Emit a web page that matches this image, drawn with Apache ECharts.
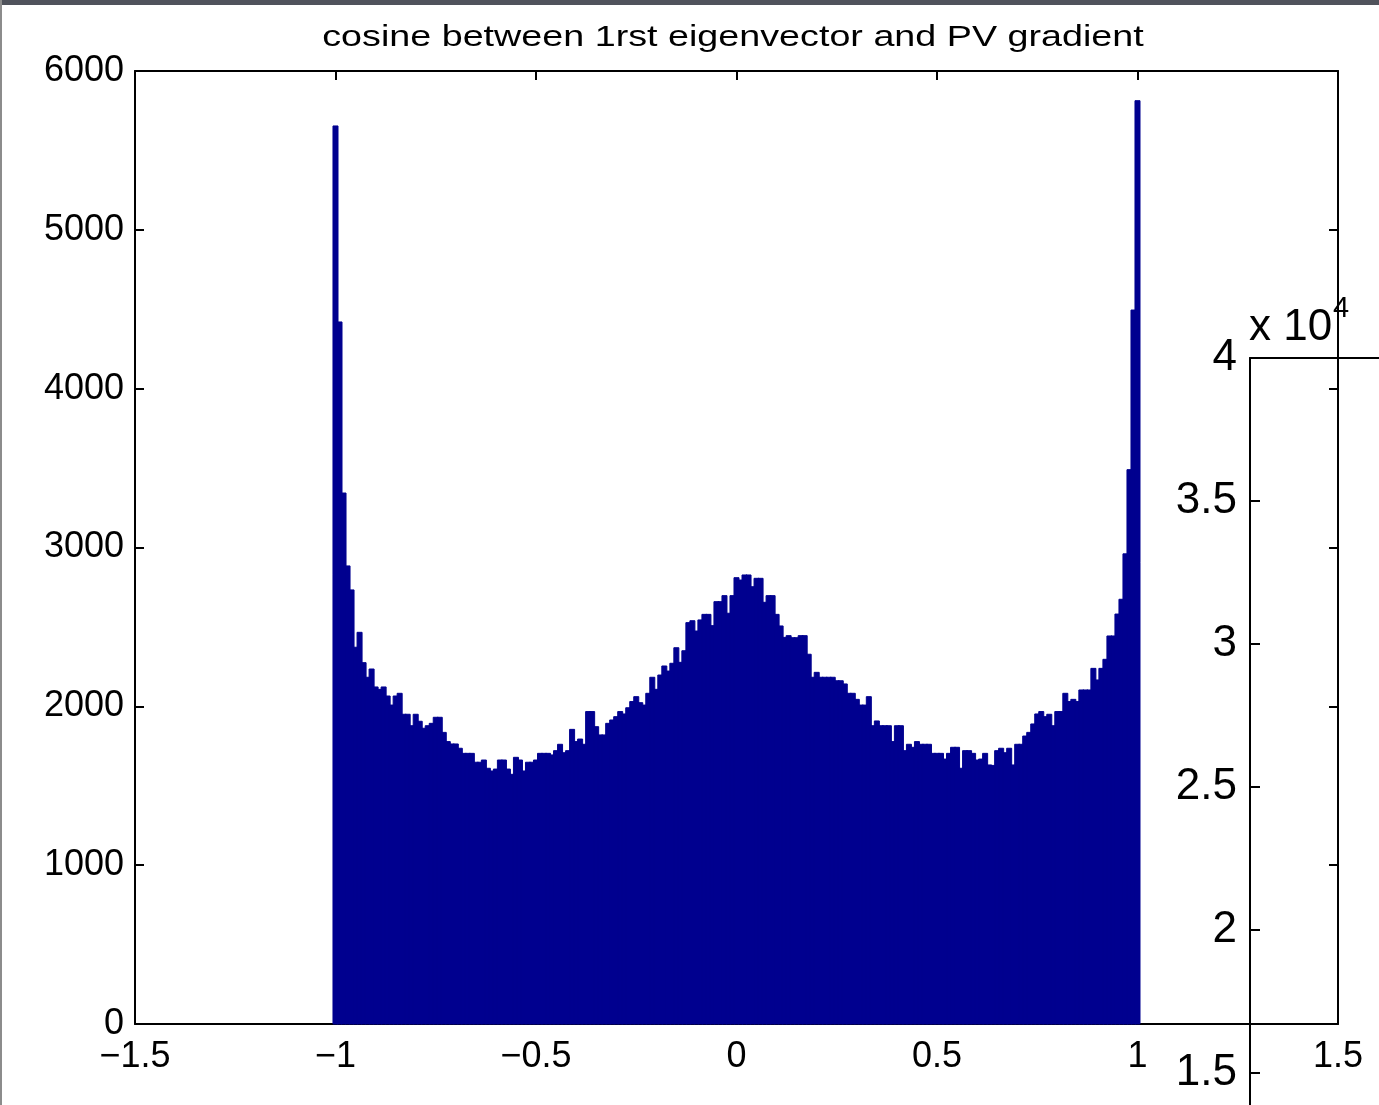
<!DOCTYPE html>
<html>
<head>
<meta charset="utf-8">
<script src="https://cdn.jsdelivr.net/npm/echarts@6/dist/echarts.min.js"></script>
<style>
html,body{margin:0;padding:0;background:#fff;}
#chart{width:1379px;height:1105px;}
</style>
</head>
<body>
<div id="chart"></div>
<script>
// ---- data ----
var titleText = 'cosine between 1rst eigenvector and PV gradient';
var binStart = -1;      // centre of first bin
var binStep = 0.01;     // bin width
var counts = [
5654,4420,3343,2884,2733,2372,2466,2275,2183,2235,
2122,2107,2122,2065,2008,2065,2082,1950,1950,1878,
1950,1906,1862,1878,1893,1931,1931,1836,1778,1763,
1763,1736,1704,1704,1704,1648,1648,1662,1610,1593,
1605,1662,1662,1605,1572,1679,1662,1593,1648,1648,
1662,1704,1704,1704,1694,1721,1761,1708,1721,1855,
1778,1794,1761,1967,1967,1872,1820,1820,1893,1914,
1935,1967,1952,1991,2030,2061,2023,2008,2082,2183,
2107,2197,2254,2222,2271,2369,2277,2350,2527,2539,
2474,2544,2579,2579,2508,2659,2659,2697,2586,2697,
2810,2795,2827,2827,2753,2806,2806,2655,2697,2697,
2579,2506,2434,2445,2432,2432,2445,2445,2328,2183,
2214,2183,2183,2183,2183,2161,2161,2141,2082,2082,
2044,2008,2008,2061,1878,1908,1878,1878,1878,1778,
1878,1878,1721,1761,1742,1778,1761,1761,1761,1704,
1704,1704,1668,1704,1742,1742,1610,1721,1721,1704,
1662,1668,1704,1631,1628,1721,1736,1708,1736,1631,
1761,1761,1813,1836,1889,1952,1967,1935,1950,1878,
1967,1967,2082,2030,2044,2030,2103,2103,2103,2239,
2166,2239,2296,2443,2443,2581,2674,2960,3490,4495,
5813
];
var xTicks = [-1.5, -1, -0.5, 0, 0.5, 1, 1.5];
var yTicks = [0, 1000, 2000, 3000, 4000, 5000, 6000];
// second (partially visible) axes, values x 10^4
var y2Ticks = [1.5, 2, 2.5, 3, 3.5, 4];
var y2Min = 1.388;  // lower end of that axis, just below the picture edge

var histData = counts.map(function (c, i) {
  return [binStart + i * binStep, c];
});

var FONT = '"Liberation Sans", Arial, Helvetica, sans-serif';
var lineStyle = { color: '#000', width: 2 };

var chart = echarts.init(document.getElementById('chart'), null, { renderer: 'canvas' });

function minusFmt(v) {
  return String(v).replace('-', '\u2212');
}

var option = {
  backgroundColor: '#ffffff',
  animation: false,
  grid: [
    { left: 135, right: 41, top: 71, bottom: 81, containLabel: false },
    { left: 1250, top: 358, right: 0, bottom: 0, containLabel: false }
  ],
  xAxis: [
    {
      type: 'value', gridIndex: 0, position: 'bottom',
      min: xTicks[0], max: xTicks[xTicks.length - 1], interval: 0.5,
      axisLine: { show: true, lineStyle: lineStyle, onZero: false },
      axisTick: { show: true, inside: true, length: 9, lineStyle: lineStyle },
      axisLabel: { color: '#000', fontSize: 36, fontFamily: FONT, margin: 15, formatter: minusFmt },
      splitLine: { show: false }
    },
    {
      type: 'value', gridIndex: 0, position: 'top',
      min: xTicks[0], max: xTicks[xTicks.length - 1], interval: 0.5,
      axisLine: { show: true, lineStyle: lineStyle, onZero: false },
      axisTick: { show: true, inside: true, length: 9, lineStyle: lineStyle },
      axisLabel: { show: false },
      splitLine: { show: false }
    },
    {
      type: 'value', gridIndex: 1, position: 'top', min: 0, max: 1,
      axisLine: { show: true, lineStyle: lineStyle, onZero: false },
      axisTick: { show: false }, axisLabel: { show: false }, splitLine: { show: false }
    }
  ],
  yAxis: [
    {
      type: 'value', gridIndex: 0, position: 'left',
      min: yTicks[0], max: yTicks[yTicks.length - 1], interval: 1000,
      axisLine: { show: true, lineStyle: lineStyle, onZero: false },
      axisTick: { show: true, inside: true, length: 9, lineStyle: lineStyle },
      axisLabel: { color: '#000', fontSize: 36, fontFamily: FONT, margin: 11,
        formatter: function (v) { return String(v); } },
      splitLine: { show: false }
    },
    {
      type: 'value', gridIndex: 0, position: 'right',
      min: yTicks[0], max: yTicks[yTicks.length - 1], interval: 1000,
      axisLine: { show: true, lineStyle: lineStyle, onZero: false },
      axisTick: { show: true, inside: true, length: 9, lineStyle: lineStyle },
      axisLabel: { show: false },
      splitLine: { show: false }
    },
    {
      type: 'value', gridIndex: 1, position: 'left',
      min: y2Min, max: y2Ticks[y2Ticks.length - 1],
      axisLine: { show: true, lineStyle: lineStyle, onZero: false },
      axisTick: { show: true, inside: true, length: 10, lineStyle: lineStyle, customValues: y2Ticks },
      axisLabel: {
        color: '#000', fontSize: 44, fontFamily: FONT, margin: 13, customValues: y2Ticks,
        formatter: function (v) { return String(v); }
      },
      splitLine: { show: false }
    }
  ],
  series: [
    {
      type: 'custom',
      xAxisIndex: 0, yAxisIndex: 0,
      data: histData,
      encode: { x: 0, y: 1 },
      renderItem: function (params, api) {
        var x = api.value(0), y = api.value(1);
        var p0 = api.coord([x - binStep / 2, y]);
        var p1 = api.coord([x + binStep / 2, 0]);
        return {
          type: 'rect',
          shape: { x: p0[0] - 0.5, y: p0[1], width: p1[0] - p0[0] + 1, height: p1[1] - p0[1] },
          style: { fill: '#00008F', stroke: '#00008F', lineWidth: 1 }
        };
      }
    }
  ],
  graphic: [
    { type: 'rect', left: 0, top: 0, shape: { width: 1379, height: 5 }, style: { fill: '#50535c' }, z: 100 },
    { type: 'rect', left: 0, top: 0, shape: { width: 2, height: 1105 }, style: { fill: '#8c8c8c' }, z: 100 },
    {
      type: 'text', x: 733, y: 38, scaleX: 1.3, scaleY: 1,
      style: { text: titleText, fill: '#000', font: '29px ' + FONT, textAlign: 'center', textVerticalAlign: 'middle' },
      z: 100
    },
    {
      type: 'text', x: 1249, y: 328,
      style: { text: 'x 10', fill: '#000', font: '44px ' + FONT, textAlign: 'left', textVerticalAlign: 'middle' },
      z: 100
    },
    {
      type: 'text', x: 1333, y: 309,
      style: { text: '4', fill: '#000', font: '29px ' + FONT, textAlign: 'left', textVerticalAlign: 'middle' },
      z: 100
    }
  ]
};
chart.setOption(option);
</script>
</body>
</html>
